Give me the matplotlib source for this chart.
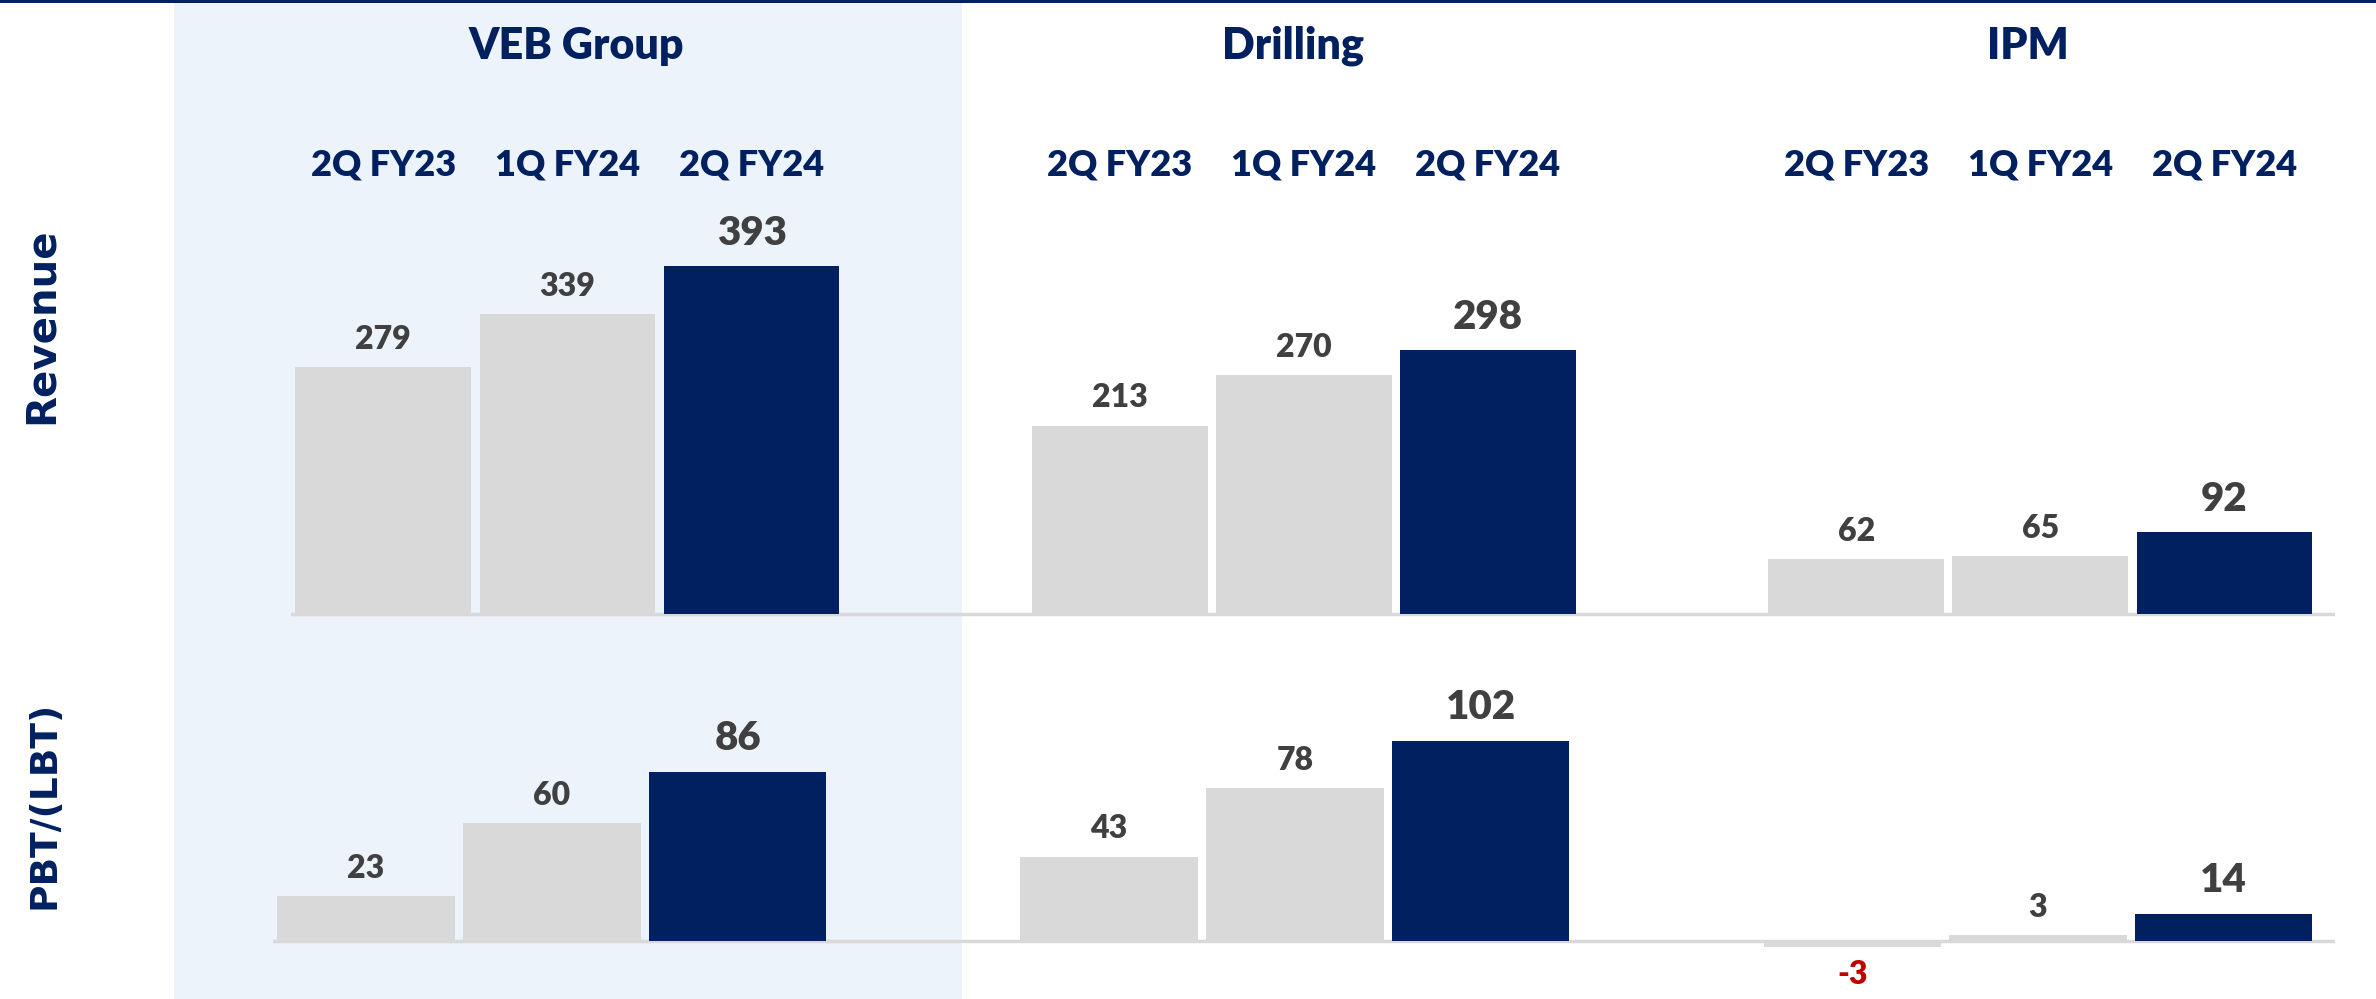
import matplotlib
matplotlib.use("Agg")
import matplotlib.pyplot as plt
import matplotlib.transforms as mtransforms
from matplotlib.patches import Rectangle

# ---------------- data ----------------
groups = ["VEB Group", "Drilling", "IPM"]
periods = ["2Q FY23", "1Q FY24", "2Q FY24"]
revenue_veb = [279, 339, 393]
revenue_drilling = [213, 270, 298]
revenue_ipm = [62, 65, 92]
pbt_veb = [23, 60, 86]
pbt_drilling = [43, 78, 102]
pbt_ipm = [-3, 3, 14]
row_labels = ["Revenue", "PBT/(LBT)"]

NAVY = "#002060"
GREY = "#D9D9D9"
LABEL = "#404040"
RED = "#C00000"
PANEL = "#EDF3FA"

NUM_FONT = ["Lato", "DejaVu Sans"]
HEAD_FONT = ["Lato", "DejaVu Sans"]

W, H = 2376, 999
fig = plt.figure(figsize=(W / 100, H / 100), dpi=100)
fig.patch.set_facecolor("white")

# background panel and top line
fig.patches.append(Rectangle((174 / W, 0), (962 - 174) / W, (H - 3) / H,
                             transform=fig.transFigure, facecolor=PANEL,
                             edgecolor="none", zorder=-5))
fig.patches.append(Rectangle((0, (H - 3) / H), 1, 3 / H,
                             transform=fig.transFigure, facecolor=NAVY,
                             edgecolor="none", zorder=-5))

ax_rev = fig.add_axes([291.3 / W, 0.3804, 2043.6 / W, 0.3944])
ax_pbt = fig.add_axes([273.2 / W, 0.0285, 2062.0 / W, 0.2852])
ax_rev.set_ylim(-6, 440)
ax_pbt.set_ylim(-15, 130)

rows = [
    (ax_rev, [revenue_veb, revenue_drilling, revenue_ipm]),
    (ax_pbt, [pbt_veb, pbt_drilling, pbt_ipm]),
]

for ax, series in rows:
    ax.set_xlim(-0.5, 10.6)
    ax.axis("off")
    ax.patch.set_alpha(0)
    ax.axhline(0, color=GREY, lw=2.5, zorder=1)
    for g, vals in enumerate(series):
        xs = [g * 4 + i for i in range(len(vals))]
        colors = [GREY, GREY, NAVY]
        ax.bar(xs, vals, width=0.955, color=colors, zorder=2)
        for i, (x, v) in enumerate(zip(xs, vals)):
            big = i == 2
            if v < 0:
                off, col = -20, RED
            else:
                off, col = (24 if big else 20), LABEL
            ax.annotate(f"{v}", xy=(x, v), xytext=(0, off),
                        textcoords="offset points", ha="center", va="center",
                        fontsize=29 if big else 23, fontweight="heavy",
                        color=col, family=NUM_FONT)

# group titles and column headers
title_shift = [0.05, -0.06, -0.07]
trans = mtransforms.blended_transform_factory(ax_rev.transData, fig.transFigure)
for g, name in enumerate(groups):
    ax_rev.text(g * 4 + 1 + title_shift[g], 1 - 46 / H, name, transform=trans,
                ha="center", va="center", fontsize=31, fontweight="heavy",
                color=NAVY, family=HEAD_FONT)
    for i, p in enumerate(periods):
        ax_rev.text(g * 4 + i, 1 - 165 / H, p, transform=trans, ha="center",
                    va="center", fontsize=26, fontweight="heavy", color=NAVY,
                    family=HEAD_FONT)

# row labels
fig.text(42 / W, 1 - 326 / H, row_labels[0], rotation=90, ha="center",
         va="center", fontsize=29, fontweight="bold", color=NAVY,
         family=["DejaVu Sans"])
fig.text(45 / W, 1 - 805 / H, row_labels[1], rotation=90, ha="center",
         va="center", fontsize=27, fontweight="bold", color=NAVY,
         family=["DejaVu Sans"])

fig.savefig("out.png", dpi=100, facecolor="white")
